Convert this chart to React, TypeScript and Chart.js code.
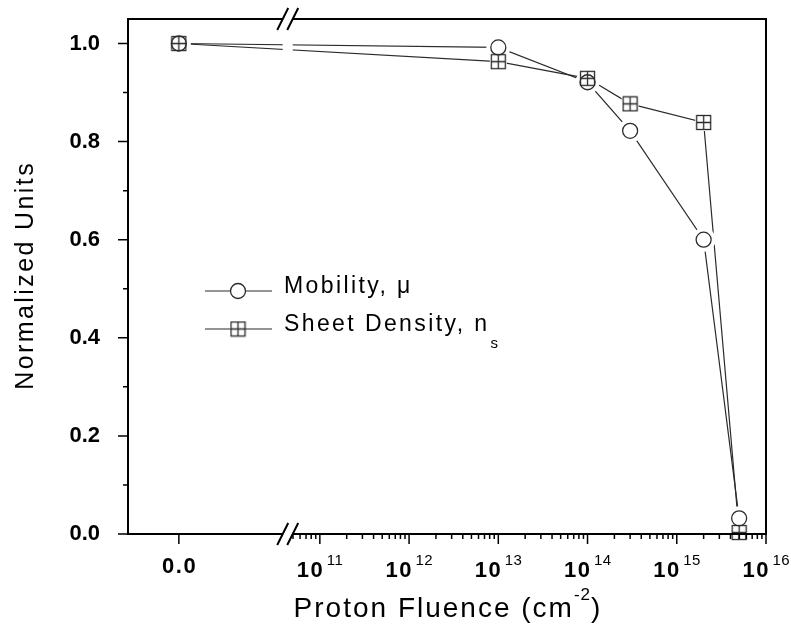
import React, { useEffect, useRef } from 'react';
import { Chart, registerables } from 'chart.js';

Chart.register(...registerables);

// ---------- data ----------
const FLUENCE = [0, 1e13, 1e14, 3e14, 2e15, 5e15];
const MOBILITY = [1.0, 0.992, 0.921, 0.822, 0.6, 0.032];
const SHEET_DENSITY = [1.0, 0.963, 0.929, 0.877, 0.839, 0.003];

const Y_TICKS = [0, 0.1, 0.2, 0.3, 0.4, 0.5, 0.6, 0.7, 0.8, 0.9, 1.0];
const Y_TICK_LABELS = ['0.0', '', '0.2', '', '0.4', '', '0.6', '', '0.8', '', '1.0'];
const X_ZERO_LABEL = '0.0';
const X_DECADES = [11, 12, 13, 14, 15, 16];
const X_MINOR_MULTIPLIERS = [2, 3, 4, 5, 6, 7, 8, 9];

const SERIES_NAMES = ['Mobility, \u03bc', 'Sheet Density, n'];
const SERIES_SUBSCRIPTS = ['', 's'];
const X_TITLE = 'Proton Fluence (cm';
const X_TITLE_SUP = '-2';
const X_TITLE_END = ')';
const Y_TITLE = 'Normalized Units';

// ---------- scale configuration (broken axis: linear "0" part + log part) ----------
const X_MIN = 8.85;
const X_MAX = 16;
const ZERO_POS = 9.42;
const BREAK_POS = 10.64;
const Y_MIN = 0;
const Y_MAX = 1.05;

const FONT = '"Liberation Sans", Arial, Helvetica, sans-serif';
const INK = '#000000';
const LINE = '#2b2b2b';

const toX = (f: number) => (f === 0 ? ZERO_POS : Math.log10(f));
const toPoints = (vals: number[]) => FLUENCE.map((f, i) => ({ x: toX(f), y: vals[i] }));

function makeSquareMarker(): HTMLCanvasElement {
  const c = document.createElement('canvas');
  c.width = 17;
  c.height = 17;
  const g = c.getContext('2d')!;
  g.strokeStyle = LINE;
  g.lineWidth = 1.3;
  g.strokeRect(1.5, 1.5, 14, 14);
  g.beginPath();
  g.moveTo(8.5, 1.5);
  g.lineTo(8.5, 15.5);
  g.moveTo(1.5, 8.5);
  g.lineTo(15.5, 8.5);
  g.stroke();
  return c;
}

function textWidth(ctx: CanvasRenderingContext2D, t: string, spacing: number) {
  return ctx.measureText(t).width - spacing;
}

export default function App() {
  const canvasRef = useRef<HTMLCanvasElement | null>(null);

  useEffect(() => {
    const canvas = canvasRef.current;
    if (!canvas) return;
    const square = makeSquareMarker();

    const decor = {
      id: 'decor',
      afterDraw(chart: any) {
        const ctx: CanvasRenderingContext2D = chart.ctx;
        const a = chart.chartArea;
        const xs = chart.scales.x;
        const ys = chart.scales.y;
        ctx.save();

        // frame
        ctx.strokeStyle = INK;
        ctx.lineWidth = 2;
        ctx.strokeRect(a.left, a.top, a.right - a.left, a.bottom - a.top);

        // x ticks
        ctx.lineWidth = 1.5;
        ctx.beginPath();
        const xTick = (v: number, len: number) => {
          const px = xs.getPixelForValue(v);
          ctx.moveTo(px, a.bottom);
          ctx.lineTo(px, a.bottom + len);
        };
        xTick(ZERO_POS, 10);
        X_DECADES.forEach((d) => xTick(d, 10));
        for (let n = 10; n < 16; n++) {
          X_MINOR_MULTIPLIERS.forEach((k) => {
            const v = n + Math.log10(k);
            if (v > BREAK_POS + 0.04 && v < X_MAX) xTick(v, 5);
          });
        }
        // y ticks
        Y_TICKS.forEach((v, i) => {
          const py = ys.getPixelForValue(v);
          const len = Y_TICK_LABELS[i] ? 10 : 5;
          ctx.moveTo(a.left, py);
          ctx.lineTo(a.left - len, py);
        });
        ctx.stroke();

        // axis break
        const xb = xs.getPixelForValue(BREAK_POS);
        ctx.fillStyle = '#ffffff';
        ctx.fillRect(xb - 5, a.top - 2, 10, a.bottom - a.top + 4);
        ctx.lineWidth = 2;
        ctx.beginPath();
        [a.top, a.bottom].forEach((y) => {
          [-5, 5].forEach((dx) => {
            ctx.moveTo(xb + dx - 5.5, y + 11);
            ctx.lineTo(xb + dx + 5.5, y - 11);
          });
        });
        ctx.stroke();

        // x tick labels
        ctx.fillStyle = INK;
        ctx.textAlign = 'left';
        ctx.textBaseline = 'alphabetic';
        (ctx as any).letterSpacing = '1.5px';
        ctx.font = `bold 22px ${FONT}`;
        {
          const px = xs.getPixelForValue(ZERO_POS);
          const w = textWidth(ctx, X_ZERO_LABEL, 1.5);
          ctx.fillText(X_ZERO_LABEL, px - w / 2, 573);
        }
        X_DECADES.forEach((d) => {
          const px = xs.getPixelForValue(d);
          ctx.font = `bold 22px ${FONT}`;
          (ctx as any).letterSpacing = '1.5px';
          const wm = textWidth(ctx, '10', 1.5);
          ctx.font = `15px ${FONT}`;
          (ctx as any).letterSpacing = '0.5px';
          const we = textWidth(ctx, String(d), 0.5);
          const total = wm + 4 + we;
          const sx = px - total / 2;
          ctx.font = `bold 22px ${FONT}`;
          (ctx as any).letterSpacing = '1.5px';
          ctx.fillText('10', sx, 577);
          ctx.font = `15px ${FONT}`;
          (ctx as any).letterSpacing = '0.5px';
          ctx.fillText(String(d), sx + wm + 4, 565);
        });

        // x title
        {
          ctx.font = `28px ${FONT}`;
          (ctx as any).letterSpacing = '2px';
          const w1 = textWidth(ctx, X_TITLE, 0);
          const w3 = textWidth(ctx, X_TITLE_END, 2);
          ctx.font = `17px ${FONT}`;
          (ctx as any).letterSpacing = '1px';
          const w2 = textWidth(ctx, X_TITLE_SUP, 0);
          const total = w1 + w2 + w3;
          const cx = (a.left + a.right) / 2;
          const sx = cx - total / 2;
          ctx.font = `28px ${FONT}`;
          (ctx as any).letterSpacing = '2px';
          ctx.fillText(X_TITLE, sx, 617);
          ctx.fillText(X_TITLE_END, sx + w1 + w2, 617);
          ctx.font = `17px ${FONT}`;
          (ctx as any).letterSpacing = '1px';
          ctx.fillText(X_TITLE_SUP, sx + w1, 600);
        }

        // y title
        {
          ctx.save();
          ctx.font = `25px ${FONT}`;
          (ctx as any).letterSpacing = '2.4px';
          const w = textWidth(ctx, Y_TITLE, 2.4);
          ctx.translate(33, (a.top + a.bottom) / 2);
          ctx.rotate(-Math.PI / 2);
          ctx.fillText(Y_TITLE, -w / 2, 0);
          ctx.restore();
        }

        // legend
        const rows = [291, 329];
        SERIES_NAMES.forEach((name, i) => {
          const yc = rows[i];
          ctx.strokeStyle = LINE;
          ctx.lineWidth = 1.2;
          ctx.beginPath();
          ctx.moveTo(205, yc);
          ctx.lineTo(272, yc);
          ctx.stroke();
          if (i === 0) {
            ctx.beginPath();
            ctx.arc(238, yc, 7.5, 0, Math.PI * 2);
            ctx.fillStyle = '#ffffff';
            ctx.fill();
            ctx.lineWidth = 1.3;
            ctx.stroke();
          } else {
            ctx.fillStyle = '#ffffff';
            ctx.fillRect(231, yc - 7, 14, 14);
            ctx.drawImage(square, 238 - 8.5, yc - 8.5);
          }
          ctx.fillStyle = INK;
          ctx.font = `23px ${FONT}`;
          (ctx as any).letterSpacing = '2.4px';
          ctx.fillText(name, 284, yc + 2);
          if (SERIES_SUBSCRIPTS[i]) {
            const w = ctx.measureText(name).width;
            ctx.font = `15px ${FONT}`;
            (ctx as any).letterSpacing = '0px';
            ctx.fillText(SERIES_SUBSCRIPTS[i], 284 + w + 1, yc + 19);
          }
        });

        ctx.restore();
      },
    };

    const chart = new Chart(canvas, {
      type: 'scatter',
      data: {
        datasets: [
          {
            label: SERIES_NAMES[0] + ' line',
            data: toPoints(MOBILITY),
            showLine: true,
            pointRadius: 0,
            borderColor: LINE,
            borderWidth: 1.2,
            order: 5,
            clip: false,
          },
          {
            label: SERIES_NAMES[1] + ' line',
            data: toPoints(SHEET_DENSITY),
            showLine: true,
            pointRadius: 0,
            borderColor: LINE,
            borderWidth: 1.2,
            order: 5,
            clip: false,
          },
          {
            label: 'gap1',
            data: toPoints(MOBILITY),
            showLine: false,
            pointRadius: 12,
            pointBackgroundColor: '#ffffff',
            pointBorderWidth: 0,
            pointBorderColor: 'rgba(0,0,0,0)',
            order: 4,
            clip: false,
          },
          {
            label: 'gap2',
            data: toPoints(SHEET_DENSITY),
            showLine: false,
            pointRadius: 12,
            pointStyle: 'rect',
            pointBackgroundColor: '#ffffff',
            pointBorderWidth: 0,
            pointBorderColor: 'rgba(0,0,0,0)',
            order: 4,
            clip: false,
          },
          {
            label: SERIES_NAMES[0],
            data: toPoints(MOBILITY),
            showLine: false,
            pointStyle: 'circle',
            pointRadius: 7.5,
            pointBackgroundColor: '#ffffff',
            pointBorderColor: LINE,
            pointBorderWidth: 1.3,
            order: 2,
            clip: false,
          },
          {
            label: SERIES_NAMES[1] + SERIES_SUBSCRIPTS[1],
            data: toPoints(SHEET_DENSITY),
            showLine: false,
            pointStyle: square as any,
            pointRadius: 8,
            order: 1,
            clip: false,
          },
        ],
      },
      options: {
        responsive: false,
        animation: false,
        events: [],
        layout: { padding: { top: 19, right: 25, left: 0, bottom: 0 } },
        plugins: {
          legend: { display: false },
          tooltip: { enabled: false },
        },
        scales: {
          x: {
            type: 'linear',
            min: X_MIN,
            max: X_MAX,
            grid: { display: false },
            border: { display: false },
            ticks: { display: false },
            afterFit: (s: any) => {
              s.height = 92;
              s.paddingLeft = 0;
              s.paddingRight = 0;
            },
          },
          y: {
            type: 'linear',
            min: Y_MIN,
            max: Y_MAX,
            grid: { display: false },
            border: { display: false },
            afterBuildTicks: (s: any) => {
              s.ticks = Y_TICKS.map((v) => ({ value: v }));
            },
            ticks: {
              color: INK,
              padding: 20,
              autoSkip: false,
              font: { family: FONT, size: 22, weight: 'bold' },
              callback: (_v: any, i: number) => Y_TICK_LABELS[i],
            },
            afterFit: (s: any) => {
              s.width = 128;
              s.paddingTop = 0;
              s.paddingBottom = 0;
            },
          },
        },
      },
      plugins: [decor],
    } as any);

    return () => chart.destroy();
  }, []);

  return (
    <div style={{ position: 'fixed', left: 0, top: 0, width: 791, height: 626, background: '#ffffff' }}>
      <canvas ref={canvasRef} width={791} height={626} />
    </div>
  );
}
